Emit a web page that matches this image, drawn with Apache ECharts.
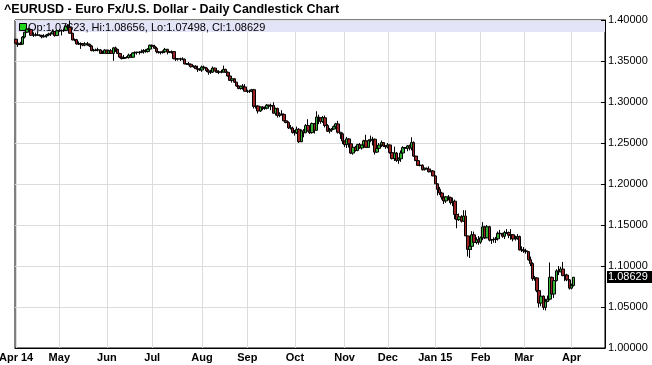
<!DOCTYPE html>
<html><head><meta charset="utf-8">
<script src="https://cdn.jsdelivr.net/npm/echarts@6/dist/echarts.min.js"></script>
<style>html,body{margin:0;padding:0;background:#fff}#c{width:652px;height:365px}</style>
</head><body><div id="c"></div>
<script>
const TITLE = "^EURUSD - Euro Fx/U.S. Dollar - Daily Candlestick Chart";
const START_DATE = [2014, 3, 3];           // 2014-04-03
const HOLIDAYS = ["2014-12-25", "2015-01-01"];
const PAD_DAYS = 14;                        // empty sessions right of the last candle
const MONTH_NAMES = ["Jan","Feb","Mar","Apr","May","Jun","Jul","Aug","Sep","Oct","Nov","Dec"];
const Y_MIN = 1.0, Y_MAX = 1.4, Y_STEP = 0.05;

// Apr 2014 .. Apr 2 2015, one row per month
const OPEN = [
1.3766,1.3717,1.3700,1.3705,1.3792,1.3851,1.3890,1.3884,1.3814,1.3815,1.3820,1.3814,1.3812,1.3795,1.3804,1.3817,1.3830,1.3832,1.3858,1.3810,
1.3868,1.3870,1.3870,1.3872,1.3925,1.3910,1.3838,1.3757,1.3760,1.3708,1.3710,1.3710,1.3694,1.3710,1.3705,1.3684,1.3627,1.3629,1.3635,1.3635,1.3592,1.3594,
1.3633,1.3593,1.3625,1.3593,1.3660,1.3642,1.3591,1.3548,1.3530,1.3543,1.3541,1.3572,1.3546,1.3598,1.3605,1.3607,1.3605,1.3613,1.3629,1.3615,1.3645,
1.3692,1.3679,1.3655,1.3613,1.3603,1.3606,1.3613,1.3642,1.3610,1.3605,1.3615,1.3529,1.3524,1.3526,1.3525,1.3522,1.3464,1.3464,1.3460,1.3430,1.3438,1.3407,1.3398,
1.3390,1.3426,1.3414,1.3382,1.3363,1.3364,1.3413,1.3380,1.3363,1.3368,1.3364,1.3398,1.3362,1.3317,1.3264,1.3283,1.3242,1.3195,1.3165,1.3193,1.3184,
1.3131,1.3130,1.3132,1.3150,1.2946,1.2951,1.2890,1.2940,1.2920,1.2925,1.2962,1.2950,1.2958,1.2863,1.2922,1.2834,1.2852,1.2849,1.2771,1.2750,1.2685,1.2682,
1.2628,1.2624,1.2667,1.2516,1.2647,1.2625,1.2713,1.2648,1.2626,1.2737,1.2655,1.2816,1.2809,1.2762,1.2808,1.2713,1.2644,1.2657,1.2670,1.2700,1.2733,1.2631,1.2612,
1.2524,1.2480,1.2550,1.2490,1.2377,1.2448,1.2409,1.2481,1.2439,1.2475,1.2527,1.2446,1.2529,1.2544,1.2546,1.2389,1.2435,1.2475,1.2505,1.2464,
1.2452,1.2476,1.2383,1.2310,1.2377,1.2288,1.2308,1.2378,1.2444,1.2435,1.2465,1.2438,1.2505,1.2340,1.2285,1.2227,1.2229,1.2174,1.2193,1.2183,1.2150,1.2159,
1.2098,1.2002,1.1935,1.1890,1.1840,1.1794,1.1843,1.1836,1.1773,1.1790,1.1628,1.1565,1.1600,1.1546,1.1608,1.1367,1.1203,1.1240,1.1380,1.1287,1.1320,
1.1291,1.1344,1.1477,1.1343,1.1478,1.1315,1.1321,1.1323,1.1331,1.1399,1.1392,1.1363,1.1408,1.1407,1.1375,1.1381,1.1329,1.1340,1.1360,1.1196,
1.1196,1.1185,1.1175,1.1077,1.1030,1.0845,1.0855,1.0700,1.0548,1.0632,1.0495,1.0566,1.0596,1.0862,1.0658,1.0823,1.0940,1.0928,1.0963,1.0883,1.0890,1.0831,
1.0730,1.07623
];
const HIGH = [
1.3770,1.3747,1.3734,1.3805,1.3855,1.3906,1.3905,1.3886,1.3850,1.3846,1.3849,1.3825,1.3818,1.3827,1.3830,1.3845,1.3850,1.3887,1.3865,1.3873,
1.3890,1.3885,1.3887,1.3951,1.3950,1.3993,1.3845,1.3775,1.3770,1.3738,1.3727,1.3715,1.3730,1.3733,1.3712,1.3697,1.3648,1.3651,1.3662,1.3645,1.3625,1.3644,
1.3637,1.3637,1.3645,1.3670,1.3676,1.3650,1.3600,1.3560,1.3574,1.3559,1.3590,1.3585,1.3605,1.3615,1.3612,1.3620,1.3640,1.3645,1.3645,1.3656,1.3700,
1.3700,1.3698,1.3673,1.3622,1.3618,1.3630,1.3660,1.3648,1.3620,1.3628,1.3620,1.3545,1.3537,1.3540,1.3545,1.3530,1.3475,1.3488,1.3466,1.3447,1.3448,1.3443,1.3413,
1.3444,1.3444,1.3425,1.3400,1.3393,1.3433,1.3420,1.3400,1.3385,1.3393,1.3444,1.3405,1.3373,1.3330,1.3300,1.3290,1.3245,1.3205,1.3200,1.3219,1.3218,
1.3150,1.3150,1.3160,1.3160,1.2990,1.2960,1.2945,1.2950,1.2946,1.2975,1.2965,1.2980,1.2996,1.2930,1.2930,1.2875,1.2900,1.2860,1.2790,1.2765,1.2720,1.2700,
1.2660,1.2700,1.2680,1.2665,1.2670,1.2730,1.2790,1.2685,1.2750,1.2745,1.2887,1.2845,1.2815,1.2830,1.2835,1.2730,1.2685,1.2683,1.2713,1.2745,1.2770,1.2635,1.2628,
1.2530,1.2575,1.2560,1.2530,1.2466,1.2465,1.2490,1.2500,1.2480,1.2540,1.2600,1.2545,1.2590,1.2575,1.2555,1.2448,1.2500,1.2530,1.2510,1.2475,
1.2500,1.2480,1.2388,1.2456,1.2390,1.2325,1.2410,1.2460,1.2450,1.2475,1.2480,1.2570,1.2520,1.2345,1.2300,1.2255,1.2240,1.2200,1.2200,1.2215,1.2185,1.2170,
1.2105,1.2010,1.1965,1.1905,1.1850,1.1850,1.1865,1.1845,1.1835,1.1810,1.1650,1.1640,1.1620,1.1680,1.1680,1.1370,1.1270,1.1425,1.1420,1.1350,1.1365,
1.1360,1.1535,1.1490,1.1500,1.1490,1.1330,1.1350,1.1355,1.1420,1.1440,1.1405,1.1430,1.1450,1.1420,1.1450,1.1385,1.1370,1.1390,1.1370,1.1240,
1.1230,1.1210,1.1180,1.1115,1.1045,1.0880,1.0860,1.0715,1.0670,1.0640,1.0600,1.0640,1.1043,1.0870,1.0850,1.0960,1.1000,1.0990,1.1050,1.0915,1.0905,1.0840,
1.0785,1.08656
];
const LOW = [
1.3705,1.3672,1.3695,1.3700,1.3775,1.3840,1.3856,1.3810,1.3792,1.3800,1.3808,1.3800,1.3776,1.3787,1.3784,1.3803,1.3805,1.3826,1.3797,1.3805,
1.3855,1.3812,1.3855,1.3865,1.3892,1.3835,1.3752,1.3740,1.3701,1.3695,1.3648,1.3680,1.3680,1.3686,1.3670,1.3618,1.3614,1.3620,1.3617,1.3585,1.3585,1.3592,
1.3588,1.3585,1.3590,1.3503,1.3610,1.3585,1.3535,1.3518,1.3525,1.3532,1.3530,1.3540,1.3536,1.3585,1.3578,1.3578,1.3595,1.3590,1.3600,1.3603,1.3632,
1.3665,1.3650,1.3594,1.3590,1.3580,1.3590,1.3596,1.3580,1.3595,1.3590,1.3520,1.3500,1.3505,1.3500,1.3508,1.3460,1.3452,1.3445,1.3420,1.3418,1.3403,1.3367,1.3380,
1.3367,1.3405,1.3365,1.3333,1.3343,1.3355,1.3375,1.3355,1.3340,1.3350,1.3360,1.3355,1.3310,1.3260,1.3237,1.3233,1.3187,1.3155,1.3150,1.3150,1.3128,
1.3110,1.3110,1.3120,1.2920,1.2920,1.2860,1.2880,1.2900,1.2905,1.2910,1.2922,1.2900,1.2860,1.2835,1.2810,1.2815,1.2834,1.2765,1.2740,1.2670,1.2665,1.2615,
1.2590,1.2610,1.2500,1.2510,1.2570,1.2620,1.2640,1.2610,1.2615,1.2615,1.2650,1.2730,1.2735,1.2745,1.2690,1.2635,1.2617,1.2635,1.2660,1.2685,1.2615,1.2550,1.2487,
1.2450,1.2440,1.2445,1.2365,1.2357,1.2395,1.2400,1.2430,1.2420,1.2440,1.2445,1.2440,1.2510,1.2470,1.2360,1.2380,1.2420,1.2450,1.2450,1.2430,
1.2435,1.2370,1.2300,1.2280,1.2270,1.2246,1.2270,1.2360,1.2380,1.2400,1.2410,1.2410,1.2330,1.2280,1.2220,1.2215,1.2165,1.2165,1.2180,1.2140,1.2145,1.2095,
1.2000,1.1860,1.1865,1.1810,1.1755,1.1770,1.1800,1.1750,1.1730,1.1570,1.1460,1.1550,1.1530,1.1540,1.1365,1.1115,1.1098,1.1195,1.1270,1.1265,1.1260,
1.1270,1.1315,1.1330,1.1340,1.1300,1.1270,1.1285,1.1280,1.1310,1.1380,1.1345,1.1330,1.1390,1.1340,1.1320,1.1300,1.1310,1.1320,1.1190,1.1170,
1.1160,1.1150,1.1065,1.1000,1.0820,1.0820,1.0680,1.0495,1.0510,1.0465,1.0458,1.0560,1.0580,1.0615,1.0610,1.0810,1.0890,1.0925,1.0875,1.0815,1.0815,1.0712,
1.0715,1.07498
];
const CLOSE = [
1.3717,1.3700,1.3705,1.3792,1.3851,1.3890,1.3884,1.3814,1.3815,1.3820,1.3814,1.3812,1.3795,1.3804,1.3817,1.3830,1.3832,1.3858,1.3810,1.3868,
1.3870,1.3870,1.3872,1.3925,1.3910,1.3838,1.3757,1.3760,1.3708,1.3710,1.3710,1.3694,1.3710,1.3705,1.3684,1.3627,1.3629,1.3635,1.3635,1.3592,1.3594,1.3633,
1.3593,1.3625,1.3593,1.3660,1.3642,1.3591,1.3548,1.3530,1.3543,1.3541,1.3572,1.3546,1.3598,1.3605,1.3607,1.3605,1.3613,1.3629,1.3615,1.3645,1.3692,
1.3679,1.3655,1.3613,1.3603,1.3606,1.3613,1.3642,1.3610,1.3605,1.3615,1.3529,1.3524,1.3526,1.3525,1.3522,1.3464,1.3464,1.3460,1.3430,1.3438,1.3407,1.3398,1.3390,
1.3426,1.3414,1.3382,1.3363,1.3364,1.3413,1.3380,1.3363,1.3368,1.3364,1.3398,1.3362,1.3317,1.3264,1.3283,1.3242,1.3195,1.3165,1.3193,1.3184,1.3131,
1.3130,1.3132,1.3150,1.2946,1.2951,1.2890,1.2940,1.2920,1.2925,1.2962,1.2950,1.2958,1.2863,1.2922,1.2834,1.2852,1.2849,1.2771,1.2750,1.2685,1.2682,1.2628,
1.2624,1.2667,1.2516,1.2647,1.2625,1.2713,1.2648,1.2626,1.2737,1.2655,1.2816,1.2809,1.2762,1.2808,1.2713,1.2644,1.2657,1.2670,1.2700,1.2733,1.2631,1.2612,1.2524,
1.2480,1.2550,1.2490,1.2377,1.2448,1.2409,1.2481,1.2439,1.2475,1.2527,1.2446,1.2529,1.2544,1.2546,1.2389,1.2435,1.2475,1.2505,1.2464,1.2452,
1.2476,1.2383,1.2310,1.2377,1.2288,1.2308,1.2378,1.2444,1.2435,1.2465,1.2438,1.2505,1.2340,1.2285,1.2227,1.2229,1.2174,1.2193,1.2183,1.2150,1.2159,1.2098,
1.2002,1.1935,1.1890,1.1840,1.1794,1.1843,1.1836,1.1773,1.1790,1.1628,1.1565,1.1600,1.1546,1.1608,1.1367,1.1203,1.1240,1.1380,1.1287,1.1320,1.1291,
1.1344,1.1477,1.1343,1.1478,1.1315,1.1321,1.1323,1.1331,1.1399,1.1392,1.1363,1.1408,1.1407,1.1375,1.1381,1.1329,1.1340,1.1360,1.1196,1.1196,
1.1185,1.1175,1.1077,1.1030,1.0845,1.0855,1.0700,1.0548,1.0632,1.0495,1.0566,1.0596,1.0862,1.0658,1.0823,1.0940,1.0928,1.0963,1.0883,1.0890,1.0831,1.0730,
1.0762,1.08629
];

// trading-day categories
const dates = [];
(function () {
  const d = new Date(Date.UTC(START_DATE[0], START_DATE[1], START_DATE[2]));
  while (dates.length < OPEN.length + PAD_DAYS) {
    const wd = d.getUTCDay();
    const s = d.toISOString().slice(0, 10);
    if (wd !== 0 && wd !== 6 && HOLIDAYS.indexOf(s) < 0) dates.push(s);
    d.setUTCDate(d.getUTCDate() + 1);
  }
})();
const isMonthStart = (i) => i === 0 || dates[i].slice(0, 7) !== dates[i - 1].slice(0, 7);
const monthLabel = (s, i) => {
  const m = +s.slice(5, 7) - 1;
  return (i === 0 || m === 0) ? MONTH_NAMES[m] + ' ' + s.slice(2, 4) : MONTH_NAMES[m];
};
const candles = OPEN.map((o, i) => [o, CLOSE[i], LOW[i], HIGH[i]]);
const last = OPEN.length - 1;
const infoText = 'Op:' + OPEN[last].toFixed(5) + ', Hi:' + HIGH[last].toFixed(5) +
  ', Lo:' + LOW[last].toFixed(5) + ', Cl:' + CLOSE[last].toFixed(5);

const FONT = '"Liberation Sans", Arial, sans-serif';
const chart = echarts.init(document.getElementById('c'), null, { renderer: 'canvas' });
const gridL = 15, gridR = 47, gridT = 20, gridB = 17;
chart.setOption({
  animation: false,
  backgroundColor: '#fff',
  grid: { left: gridL, right: gridR, top: gridT, bottom: gridB, containLabel: false, outerBoundsMode: 'none',
    show: true, borderColor: '#000', borderWidth: 1, backgroundColor: 'transparent' },
  xAxis: {
    type: 'category', data: dates, boundaryGap: true,
    axisLine: { show: true, lineStyle: { color: '#000', width: 1 } },
    axisTick: { show: false },
    axisLabel: {
      interval: (i) => isMonthStart(i), formatter: monthLabel, hideOverlap: false,
      fontFamily: FONT, fontWeight: 'bold', fontSize: 11, color: '#000', margin: 4
    },
    splitLine: { show: true, interval: (i) => isMonthStart(i), alignWithLabel: true, lineStyle: { color: '#dcdcdc', width: 1 } }
  },
  yAxis: {
    type: 'value', position: 'right', min: Y_MIN, max: Y_MAX, interval: Y_STEP, scale: true,
    axisLine: { show: true, lineStyle: { color: '#000', width: 1 } },
    axisTick: { show: true, inside: true, length: 4, lineStyle: { color: '#000' } },
    axisLabel: { formatter: (v) => v.toFixed(5), fontFamily: FONT, fontSize: 11, color: '#000', margin: 3 },
    splitLine: { show: true, lineStyle: { color: '#dcdcdc', width: 1 } }
  },
  series: [{
    type: 'candlestick', data: candles, barWidth: 3, z: 5,
    itemStyle: { color: '#33b533', color0: '#9b2222', borderColor: '#000', borderColor0: '#000', borderColorDoji: '#000', borderWidth: 1 }
  }],
  graphic: [
    { id: 'title', type: 'text', left: 4, top: 3, z: 10,
      style: { text: TITLE, font: 'bold 12.5px ' + FONT, fill: '#000' } },
    { id: 'band', type: 'rect', z: 1, shape: { x: gridL + 1, y: gridT + 1, width: 652 - gridL - gridR - 1, height: 11 },
      style: { fill: '#e4e4f8' } },
    { id: 'sq', type: 'rect', z: 1, shape: { x: 19.5, y: 23.5, width: 7, height: 7 },
      style: { fill: '#1ed41e', stroke: '#000', lineWidth: 1 } },
    { id: 'info', type: 'text', z: 1, x: 28, y: 27.5,
      style: { text: infoText, font: '11px ' + FONT, fill: '#000', verticalAlign: 'middle' } }
  ]
});
const py = chart.convertToPixel({ yAxisIndex: 0 }, CLOSE[last]);
chart.setOption({
  graphic: [
    { id: 'tagbox', type: 'rect', z: 10, shape: { x: 607, y: Math.round(py) - 6, width: 45, height: 12 }, style: { fill: '#000' } },
    { id: 'tagtxt', type: 'text', z: 11, x: 608, y: Math.round(py),
      style: { text: CLOSE[last].toFixed(5), font: '11px ' + FONT, fill: '#fff', verticalAlign: 'middle' } }
  ]
});
</script>
</body></html>
